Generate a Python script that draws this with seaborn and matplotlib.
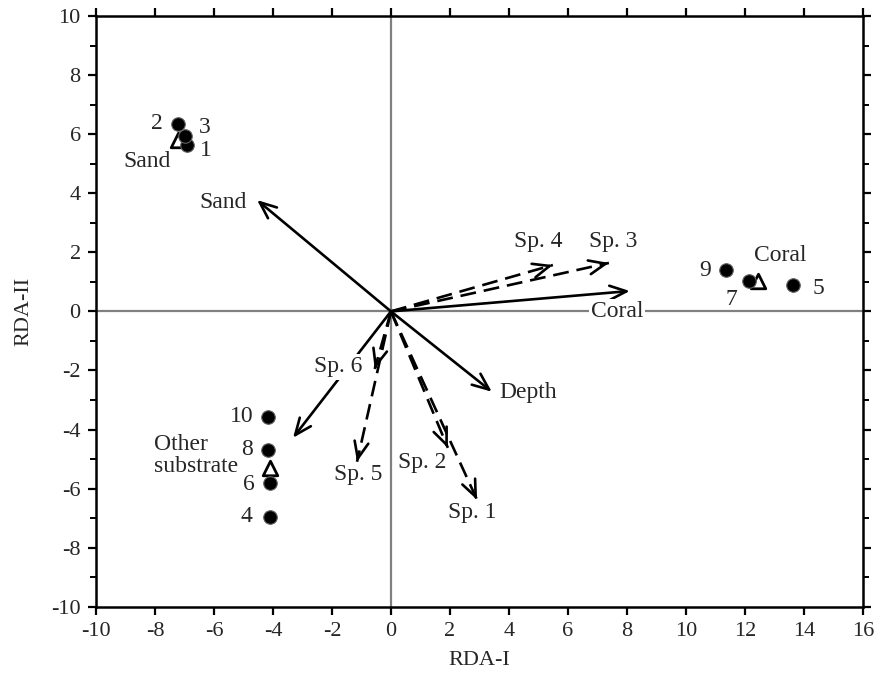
import matplotlib
matplotlib.use("Agg")
import matplotlib.pyplot as plt
import seaborn as sns
import pandas as pd
import numpy as np
from matplotlib.ticker import MultipleLocator

# ---------------- data ----------------
site_ids = ["1", "2", "3", "4", "5", "6", "7", "8", "9", "10"]
site_x = [-6.92, -7.22, -6.98, -4.10, 13.63, -4.10, 12.14, -4.17, 11.36, -4.17]
site_y = [5.63, 6.35, 5.94, -6.95, 0.90, -5.80, 1.03, -4.69, 1.40, -3.57]

centroid_names = ["Sand", "Coral", "Other\nsubstrate"]
centroid_x = [-7.22, 12.44, -4.10]
centroid_y = [5.80, 1.03, -5.30]

env_names = ["Sand", "Coral", "Depth", ""]
env_x = [-4.54, 8.10, 3.42, -3.32]
env_y = [3.77, 0.69, -2.72, -4.28]

sp_names = ["Sp. 1", "Sp. 2", "Sp. 3", "Sp. 4", "Sp. 5", "Sp. 6"]
sp_x = [2.92, 1.93, 7.39, 5.49, -1.15, -0.55]
sp_y = [-6.38, -4.62, 1.64, 1.57, -5.09, -1.95]

x_ticks = list(range(-10, 17, 2))
y_ticks = list(range(-10, 11, 2))

# ---------------- layout (label placement) ----------------
site_label_off = {"1": (14, -4), "2": (-15, 0), "3": (14, 6), "4": (-17, 0),
                  "5": (18, -3), "6": (-15, -1), "7": (-13, -13), "8": (-15, 0),
                  "9": (-15, 0), "10": (-19, 0)}
centroid_label_pos = [(-8.27, 5.09, "center"), (13.19, 1.88, "center"), (-8.03, -4.89, "left")]
env_label_pos = [(-5.69, 3.67), (7.66, 0.0), (4.64, -2.76), None]
sp_label_pos = [(2.75, -6.82), (1.05, -5.13), (7.53, 2.35), (4.98, 2.35), (-1.12, -5.53), (-1.80, -1.88)]

# ---------------- figure ----------------
sns.set_theme(style="white")
plt.rcParams["font.family"] = ["Liberation Serif", "DejaVu Serif"]

fig = plt.figure(figsize=(8.76, 6.81), dpi=100)
ax = fig.add_axes([0.1096, 0.109, 0.8754, 0.8675])

ax.axhline(0, color="#808080", lw=1.6, zorder=0)
ax.axvline(0, color="#808080", lw=1.6, zorder=0)

FS = 17
TFS = 16
head = dict(arrowstyle="->,head_length=1.0,head_width=0.42", color="black", lw=1.9,
            shrinkA=0, shrinkB=0)

# environmental (solid) arrows
for name, x, y in zip(env_names, env_x, env_y):
    ax.annotate("", xy=(x, y), xytext=(0, 0), arrowprops=head, zorder=3)

# species (dashed) arrows: dashed shaft + solid head
for name, x, y in zip(sp_names, sp_x, sp_y):
    ax.plot([0, x], [0, y], color="black", lw=1.9, ls=(0, (6, 3)), zorder=3)
    ax.annotate("", xy=(x, y), xytext=(x * 0.97, y * 0.97), arrowprops=head, zorder=3)

# arrow labels (white boxed so they mask lines beneath)
for name, lp in zip(env_names, env_label_pos):
    if lp is None:
        continue
    ax.text(lp[0], lp[1], name, fontsize=FS, ha="center", va="center", zorder=5,
            bbox=dict(facecolor="white", edgecolor="none", pad=1.5))
for name, lp in zip(sp_names, sp_label_pos):
    ax.text(lp[0], lp[1], name, fontsize=FS, ha="center", va="center", zorder=5,
            bbox=dict(facecolor="white", edgecolor="none", pad=1.5))

# centroids (open triangles)
cent_df = pd.DataFrame({"x": centroid_x, "y": centroid_y, "name": centroid_names})
sns.scatterplot(data=cent_df, x="x", y="y", marker="^", s=110, facecolor="white",
                edgecolor="black", linewidth=2, ax=ax, zorder=4)
for (lx, ly, ha), name in zip(centroid_label_pos, centroid_names):
    ax.text(lx, ly, name, fontsize=FS, ha=ha, va="center", zorder=5, linespacing=1.05)

# sites (filled circles)
site_df = pd.DataFrame({"x": site_x, "y": site_y, "id": site_ids})
sns.scatterplot(data=site_df, x="x", y="y", marker="o", s=95, color="black",
                edgecolor="#606060", linewidth=0.8, ax=ax, zorder=6)
for sid, x, y in zip(site_ids, site_x, site_y):
    ax.annotate(sid, xy=(x, y), xytext=site_label_off[sid], textcoords="offset points",
                fontsize=FS, ha="center", va="center", zorder=6)

# axes styling
ax.set_xlim(-10, 16)
ax.set_ylim(-10, 10)
ax.set_xticks(x_ticks)
ax.set_yticks(y_ticks)
ax.yaxis.set_minor_locator(MultipleLocator(1))
ax.set_xticklabels([str(t) for t in x_ticks], fontsize=TFS)
ax.set_yticklabels([str(t) for t in y_ticks], fontsize=TFS)
ax.set_xlabel("RDA-I", fontsize=TFS, labelpad=7)
ax.set_ylabel("RDA-II", fontsize=TFS, labelpad=13)
for sp in ax.spines.values():
    sp.set_visible(True)
    sp.set_color("black")
    sp.set_linewidth(1.8)
ax.tick_params(axis="both", which="major", direction="out", length=6, width=1.6,
               color="black", bottom=True, top=True, left=True, right=True,
               labelbottom=True, labelleft=True, labeltop=False, labelright=False, pad=5)
ax.tick_params(axis="y", which="minor", direction="out", length=4, width=1.4,
               color="black", left=True, right=True)
ax.grid(False)

fig.savefig("out.png", dpi=100)
